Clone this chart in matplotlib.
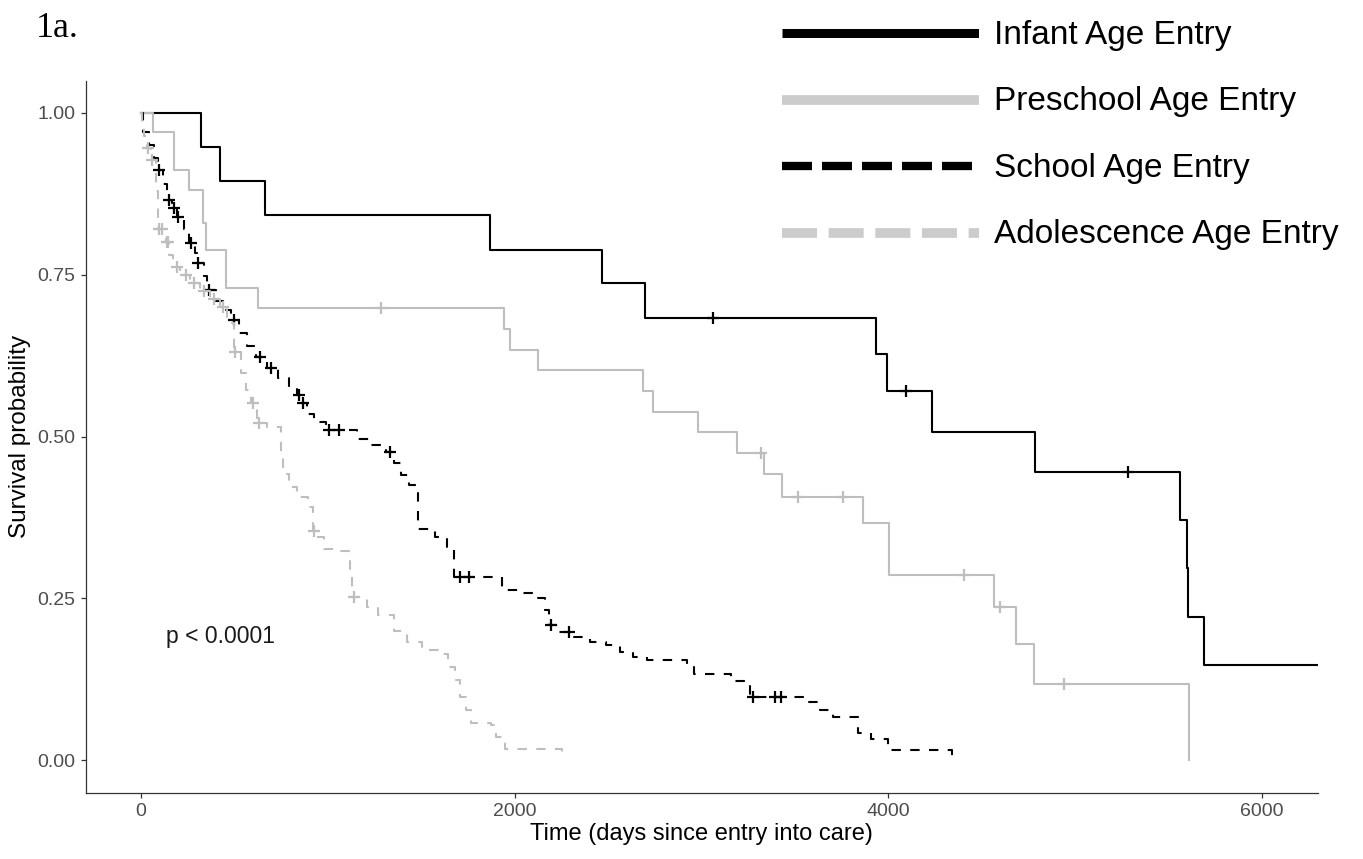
import numpy as np
import matplotlib.pyplot as plt

plt.rcParams['font.family'] = ['Liberation Sans', 'DejaVu Sans']

# Kaplan-Meier steps (days, survival)
groups = ['Infant Age Entry', 'Preschool Age Entry', 'School Age Entry', 'Adolescence Age Entry']

infant_t = [0, 322, 420, 666, 1868, 2468, 2700, 3934, 3995, 4235, 4787, 5563, 5600, 5608, 5689]
infant_s = [1.0, 0.947, 0.895, 0.842, 0.789, 0.737, 0.684, 0.627, 0.570, 0.507, 0.445, 0.371,
            0.297, 0.222, 0.148]
infant_cens = [3060, 4093, 5286]
infant_end = 6300

preschool_t = [0, 63, 178, 259, 331, 349, 456, 626, 1941, 1977, 2123, 2687, 2743, 2982, 3193,
               3333, 3429, 3864, 4004, 4566, 4682, 4782, 5612]
preschool_s = [1.0, 0.971, 0.912, 0.881, 0.83, 0.788, 0.729, 0.698, 0.666, 0.634, 0.603, 0.571,
               0.538, 0.507, 0.475, 0.442, 0.407, 0.366, 0.286, 0.237, 0.179, 0.118, 0.0]
preschool_cens = [1283, 3318, 3515, 3757, 4404, 4598, 4943]
preschool_end = 5612

school_t = [0, 11, 43, 70, 91, 118, 140, 166, 193, 231, 258, 290, 301, 338, 354, 403, 440, 483,
            526, 569, 617, 676, 735, 794, 837, 859, 886, 928, 988, 1154, 1224, 1310, 1352, 1390,
            1433, 1481, 1572, 1637, 1674, 1932, 2029, 2109, 2163, 2184, 2238, 2318, 2404, 2490,
            2565, 2635, 2710, 2925, 2962, 3156, 3258, 3569, 3633, 3703, 3837, 3907, 3998, 4342]
school_s = [1.0, 0.97, 0.95, 0.93, 0.912, 0.89, 0.866, 0.853, 0.839, 0.82, 0.799, 0.783, 0.768,
            0.748, 0.726, 0.71, 0.695, 0.68, 0.66, 0.64, 0.623, 0.606, 0.59, 0.578, 0.565, 0.552,
            0.535, 0.523, 0.510, 0.497, 0.487, 0.476, 0.46, 0.44, 0.425, 0.358, 0.345, 0.329,
            0.283, 0.263, 0.258, 0.250, 0.232, 0.209, 0.198, 0.191, 0.183, 0.178, 0.167, 0.160,
            0.155, 0.144, 0.134, 0.122, 0.098, 0.090, 0.077, 0.067, 0.042, 0.033, 0.016, 0.0]
school_cens = [97, 150, 177, 199, 268, 306, 365, 499, 639, 698, 848, 869, 1004, 1057, 1331,
               1707, 1755, 2195, 2292, 3274, 3392, 3424]
school_end = 4342

adol_t = [0, 5, 16, 32, 54, 80, 91, 134, 150, 172, 209, 263, 317, 370, 424, 462, 488, 499, 537,
          563, 590, 622, 676, 751, 762, 794, 837, 891, 918, 944, 982, 1073, 1116, 1127, 1208,
          1267, 1352, 1422, 1503, 1589, 1642, 1680, 1707, 1739, 1766, 1873, 1900, 1948, 2254]
adol_s = [1.0, 0.985, 0.965, 0.946, 0.927, 0.88, 0.82, 0.80, 0.78, 0.762, 0.75, 0.737, 0.725,
          0.713, 0.70, 0.685, 0.675, 0.63, 0.598, 0.572, 0.552, 0.521, 0.515, 0.47, 0.443, 0.422,
          0.407, 0.391, 0.355, 0.345, 0.327, 0.323, 0.29, 0.252, 0.237, 0.224, 0.20, 0.183, 0.17,
          0.165, 0.144, 0.124, 0.098, 0.077, 0.057, 0.054, 0.036, 0.018, 0.0]
adol_cens = [36, 58, 97, 110, 138, 142, 190, 241, 284, 338, 392, 440, 504, 601, 633, 928, 1138]
adol_end = 2254

x_ticks = [0, 2000, 4000, 6000]
y_ticks = [0.0, 0.25, 0.50, 0.75, 1.00]
y_tick_labels = ['0.00', '0.25', '0.50', '0.75', '1.00']

BLACK = '#000000'
GRAY = '#bebebe'
LEG_GRAY = '#cccccc'

curves = [
    (infant_t, infant_s, infant_cens, infant_end, BLACK, '-'),
    (preschool_t, preschool_s, preschool_cens, preschool_end, GRAY, '-'),
    (school_t, school_s, school_cens, school_end, BLACK, '--'),
    (adol_t, adol_s, adol_cens, adol_end, GRAY, '--'),
]

W, H = 1363, 859
fig = plt.figure(figsize=(W / 100, H / 100), dpi=100)
ax = fig.add_axes([86 / W, 1 - 792.7 / H, (1317.7 - 86) / W, (792.7 - 80.6) / H])

for t, s, cens, end, color, ls in curves:
    xs = list(t) + [end]
    ys = list(s) + [s[-1]]
    line, = ax.step(xs, ys, where='post', color=color, lw=1.5)
    if ls == '--':
        line.set_dashes((4.5, 4.5))
    # censor marks sit on the curve
    idx = np.searchsorted(t, cens, side='right') - 1
    ax.plot(cens, np.array(s)[idx], ls='none', marker='+', ms=9, mew=1.6, color=color)

ax.text(134, 0.192, 'p < 0.0001', fontsize=16.5, color='#1a1a1a', ha='left', va='center')

ax.set_xlim(-295, 6300)
ax.set_ylim(-0.05, 1.05)
ax.set_xticks(x_ticks)
ax.set_yticks(y_ticks)
ax.set_yticklabels(y_tick_labels)
ax.tick_params(axis='both', labelsize=14, labelcolor='#4d4d4d', color='#333333',
               length=3.5, width=0.9, pad=4)
for side in ['top', 'right']:
    ax.spines[side].set_visible(False)
for side in ['left', 'bottom']:
    ax.spines[side].set_color('#333333')
    ax.spines[side].set_linewidth(0.9)
ax.set_xlabel('Time (days since entry into care)', fontsize=17, labelpad=2)
ax.set_ylabel('Survival probability', fontsize=17.5, labelpad=5)

fig.text(36 / W, 1 - 37 / H, '1a.', family=['Liberation Serif', 'DejaVu Serif'], fontsize=26,
         ha='left', va='baseline')

# legend drawn as its own little panel, top right
leg = fig.add_axes([782 / W, 1 - 266 / H, 197 / W, 266 / H])
leg.set_xlim(0, 1)
leg.set_ylim(len(groups) - 0.5, -0.5)
leg.axis('off')
leg_styles = [(BLACK, None, 6.5), (LEG_GRAY, None, 7), (BLACK, (3.6, 1.2), 6), (LEG_GRAY, (3.6, 1.2), 7)]
for i, (name, (color, dash, lw)) in enumerate(zip(groups, leg_styles)):
    ln, = leg.plot([0, 1], [i, i], color=color, lw=lw, solid_capstyle='butt')
    if dash:
        ln.set_dashes(dash)
    leg.text(1.076, i + 0.03, name, fontsize=24, ha='left', va='center', clip_on=False)

fig.savefig('out.png', dpi=100)
